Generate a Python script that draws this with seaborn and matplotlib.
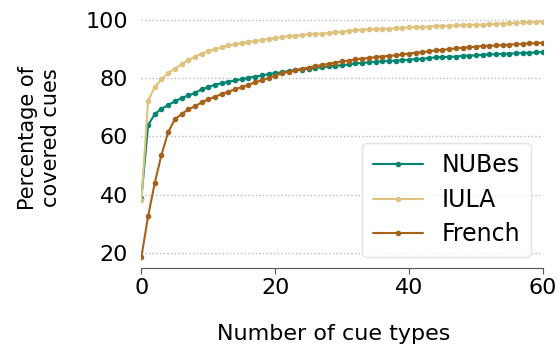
import numpy as np
import pandas as pd
import matplotlib
matplotlib.use("Agg")
import matplotlib.pyplot as plt
import seaborn as sns

# values (x = 0..60 cue types)
cue_types = list(range(61))

nubes = [39.0, 63.9, 67.7, 69.5, 70.8, 72.1, 73.2, 74.1, 75.0, 76.2,
         77.0, 77.8, 78.3, 78.8, 79.3, 79.7, 80.2, 80.6, 81.0, 81.4,
         81.8, 82.1, 82.5, 82.8, 83.0, 83.3, 83.6, 83.8, 84.1, 84.3,
         84.5, 84.8, 85.1, 85.3, 85.5, 85.7, 85.9, 86.0, 86.1, 86.2,
         86.4, 86.6, 86.7, 87.0, 87.2, 87.3, 87.4, 87.5, 87.7, 87.8,
         87.9, 88.1, 88.2, 88.3, 88.4, 88.5, 88.6, 88.7, 88.8, 88.9,
         89.0]

iula = [38.1, 72.3, 77.1, 79.6, 81.9, 83.2, 84.9, 86.2, 87.4, 88.5,
        89.3, 90.1, 90.6, 91.3, 91.7, 92.2, 92.5, 92.9, 93.2, 93.5,
        93.8, 94.2, 94.5, 94.7, 94.9, 95.2, 95.3, 95.4, 95.6, 95.8,
        96.0, 96.3, 96.5, 96.7, 96.8, 96.9, 97.0, 97.1, 97.2, 97.4,
        97.5, 97.6, 97.7, 97.8, 97.9, 98.0, 98.1, 98.2, 98.3, 98.4,
        98.4, 98.5, 98.6, 98.7, 98.8, 98.9, 99.1, 99.2, 99.3, 99.4,
        99.5]

french = [18.6, 32.6, 44.1, 53.7, 61.5, 65.9, 67.7, 69.3, 70.4, 71.7,
          72.8, 73.7, 74.6, 75.4, 76.2, 77.0, 77.8, 78.6, 79.4, 80.1,
          80.9, 81.7, 82.3, 82.8, 83.3, 83.7, 84.2, 84.6, 85.0, 85.4,
          85.8, 86.1, 86.5, 86.8, 87.0, 87.3, 87.5, 87.7, 87.9, 88.2,
          88.5, 88.8, 89.0, 89.3, 89.6, 89.8, 90.0, 90.3, 90.5, 90.7,
          90.9, 91.1, 91.2, 91.3, 91.4, 91.6, 91.7, 91.9, 92.0, 92.1,
          92.3]

corpora = ["NUBes", "IULA", "French"]
colors = {"NUBes": "#018571", "IULA": "#dfc27d", "French": "#a6611a"}
y_ticks = [20, 40, 60, 80, 100]
x_ticks = [0, 20, 40, 60]

df = pd.concat([
    pd.DataFrame({"cue_types": cue_types, "coverage": vals, "corpus": name})
    for name, vals in zip(corpora, [nubes, iula, french])
], ignore_index=True)

sns.set_style("white")
plt.rcParams["font.family"] = ["DejaVu Sans"]
plt.rcParams["text.color"] = "black"
plt.rcParams["axes.labelcolor"] = "black"
plt.rcParams["xtick.color"] = "black"
plt.rcParams["ytick.color"] = "black"

fig = plt.figure(figsize=(5.59, 3.45), dpi=100)
ax = fig.add_axes([0.253, 0.223, 0.718, 0.727])

sns.lineplot(data=df, x="cue_types", y="coverage", hue="corpus",
             hue_order=corpora, palette=colors, marker="o", markersize=4,
             markeredgewidth=0, linewidth=1.5, ax=ax)

ax.set_xlim(0, 60)
ax.set_ylim(14.75, 101)
ax.set_xticks(x_ticks)
ax.set_yticks(y_ticks)
ax.yaxis.grid(True, linestyle=":", color="#bbbbbb", linewidth=1)
ax.xaxis.grid(False)
for side in ["top", "right", "left"]:
    ax.spines[side].set_visible(False)
ax.spines["bottom"].set_color("#555555")
ax.tick_params(axis="x", bottom=True, length=4, color="#555555", labelsize=16, pad=3)
ax.tick_params(axis="y", left=False, labelsize=16, pad=6)

ax.set_xlabel("Number of cue types", fontsize=16)
ax.set_ylabel("Percentage of\ncovered cues", fontsize=15)
ax.xaxis.set_label_coords(0.478, -0.225)
ax.yaxis.set_label_coords(-0.20, 0.52)

handles, labels = ax.get_legend_handles_labels()
ax.legend(handles, labels, loc="lower right", fontsize=17, frameon=True,
          handlelength=2.1, handletextpad=0.8, labelspacing=0.45,
          edgecolor="#dddddd", borderpad=0.45, borderaxespad=0,
          bbox_to_anchor=(0.97, 0.044))

fig.savefig("out.png", dpi=100)
